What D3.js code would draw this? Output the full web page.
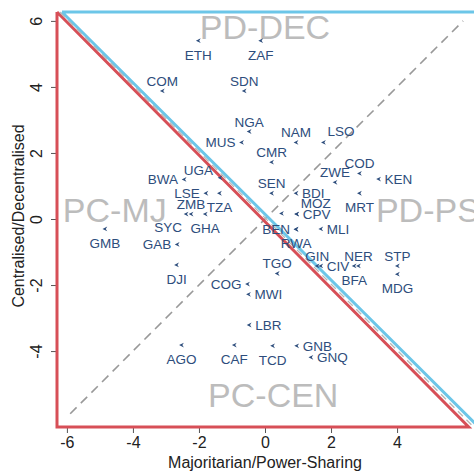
<!DOCTYPE html>
<html>
<head>
<meta charset="utf-8">
<script src="https://cdn.jsdelivr.net/npm/d3@7"></script>
<style>
  html, body { margin: 0; padding: 0; background: #fff; }
  svg { display: block; font-family: "Liberation Sans", Arial, sans-serif; }
</style>
</head>
<body>
<div id="chart"></div>
<script>
// Country codes, scores and label clock positions (0 = no label)
const codes = ["ETH","ZAF","COM","SDN","NGA","MUS","NAM","LSO","CMR","UGA",
  "BWA","COD","ZWE","KEN","SEN","BDI","MRT","LSE","TZA","ZMB",
  "SYC","GHA","MOZ","CPV","","BEN","RWA","MLI","GMB","GAB",
  "DJI","TGO","GIN","CIV","NER","BFA","STP","MDG","COG","MWI",
  "LBR","AGO","CAF","TCD","GNB","GNQ"];
const majPower = [-2.02,-0.13,-3.11,-0.63,-0.48,-0.71,0.94,1.77,0.20,-1.36,
  -2.45,2.86,2.12,3.44,0.20,0.94,2.86,-1.79,-1.38,-2.24,
  -2.39,-1.81,0.96,0.96,0.50,0.94,0.94,1.69,-4.85,-2.66,
  -2.68,0.37,1.58,1.69,2.83,2.70,4.01,4.01,-0.53,-0.50,
  -0.48,-2.53,-0.93,0.23,0.96,1.39];
const centDecent = [5.40,5.40,3.88,3.88,2.65,2.32,2.32,2.32,1.72,1.25,
  1.20,1.38,1.11,1.21,0.78,0.78,0.78,0.78,0.78,0.15,
  0.15,0.15,0.15,0.15,0.17,-0.31,-0.31,-0.30,-0.30,-0.77,
  -1.39,-1.65,-1.42,-1.42,-1.42,-1.42,-1.42,-1.67,-1.97,-2.28,
  -3.21,-3.82,-3.82,-3.84,-3.84,-4.19];
const labelPos = [6,6,12,12,12,9,12,1,12,10,
  9,12,12,3,12,3,6,9,6,12,
  7,6,1,3,0,9,6,3,6,9,
  6,12,12,3,12,6,12,6,9,3,
  3,6,6,6,3,3];

const xTicks = [-6,-4,-2,0,2,4];
const yTicks = [-4,-2,0,2,4,6];

const quadrants = ["PD-DEC","PC-MJ","PD-PS","PC-CEN"];

const width = 474, height = 473;
const x = d3.scaleLinear().domain([-6.3, 6.3]).range([57, 473]);
const y = d3.scaleLinear().domain([-6.3, 6.3]).range([427, 11]);

const svg = d3.select("#chart").append("svg")
    .attr("width", width)
    .attr("height", height);

const RED = "#d74f57", BLUE = "#6cc6e8", NAVY = "#2d4d7c";

// Axes (ticks only, the triangles act as axis lines)
const xAxis = svg.append("g")
    .attr("transform", `translate(0,${y(-6.3) + 1})`)
    .call(d3.axisBottom(x).tickValues(xTicks).tickSize(5).tickPadding(4).tickFormat(d3.format("d")));
xAxis.select(".domain").remove();
xAxis.selectAll("line").attr("stroke", "#555");
xAxis.selectAll("text").attr("font-size", 16).attr("fill", "#222")
    .text(d => d < 0 ? "-" + Math.abs(d) : d);

const yAxis = svg.append("g")
    .attr("transform", `translate(${x(-6.3) - 1},0)`)
    .call(d3.axisLeft(y).tickValues(yTicks).tickSize(5).tickPadding(4));
yAxis.select(".domain").remove();
yAxis.selectAll("line").attr("stroke", "#555");
yAxis.selectAll("text")
    .attr("font-size", 16).attr("fill", "#222")
    .attr("text-anchor", "middle")
    .attr("x", 0).attr("dy", 0)
    .attr("transform", "translate(-14,0) rotate(-90)")
    .text(d => d < 0 ? "-" + Math.abs(d) : d);

// Axis titles
svg.append("text")
    .attr("x", x(0)).attr("y", 468)
    .attr("text-anchor", "middle")
    .attr("font-size", 16).attr("fill", "#222")
    .text("Majoritarian/Power-Sharing");

svg.append("text")
    .attr("transform", `translate(24,${y(0) - 3}) rotate(-90)`)
    .attr("text-anchor", "middle")
    .attr("font-size", 16).attr("fill", "#222")
    .text("Centralised/Decentralised");

const line = d3.line().x(d => x(d[0])).y(d => y(d[1]));

// 45 degree dashed reference
svg.append("path")
    .attr("d", line([[-5.9, -5.9], [6.0, 6.0]]))
    .attr("fill", "none").attr("stroke", "#999")
    .attr("stroke-width", 1.6).attr("stroke-dasharray", "9,6");

// Blue triangle (upper right)
svg.append("path")
    .attr("d", line([[-6.15, 6.27], [6.5, 6.27], [6.5, -6.3], [6.47, -6.3], [-6.15, 6.27]]))
    .attr("fill", "none").attr("stroke", BLUE).attr("stroke-width", 3);

// Red triangle (lower left)
svg.append("path")
    .attr("d", line([[-6.3, 6.27], [-6.3, -6.3], [6.17, -6.3], [-6.3, 6.27]]))
    .attr("fill", "none").attr("stroke", RED).attr("stroke-width", 3)
    .attr("stroke-linejoin", "miter");

// Dashed anti-diagonal between the two
svg.append("path")
    .attr("d", line([[-6.22, 6.27], [6.32, -6.3]]))
    .attr("fill", "none").attr("stroke", "#b5b5b5")
    .attr("stroke-width", 1.3).attr("stroke-dasharray", "7,5");

// Quadrant labels
const qPos = [[0, 5.45, "middle"], [-4.55, -0.09, "middle"], [3.36, -0.09, "start"], [0.25, -5.7, "middle"]];
svg.selectAll("text.quad")
    .data(quadrants)
    .join("text")
    .attr("class", "quad")
    .attr("x", (d, i) => x(qPos[i][0]))
    .attr("y", (d, i) => y(qPos[i][1]))
    .attr("text-anchor", (d, i) => qPos[i][2])
    .attr("font-size", 34)
    .attr("fill", "#bcbcbc")
    .text(d => d);

// Points
const points = codes.map((c, i) => ({ code: c, mx: majPower[i], cy: centDecent[i], pos: labelPos[i] }));

svg.selectAll("path.pt")
    .data(points)
    .join("path")
    .attr("class", "pt")
    .attr("d", d => {
        const px = x(d.mx), py = y(d.cy);
        return `M${px + 2.4},${py - 2.4}L${px - 2.4},${py}L${px + 2.4},${py + 2.4}L${px + 0.9},${py}Z`;
    })
    .attr("fill", NAVY);

const offsets = {
    12: [0, -5, "middle"],
    6: [0, 19, "middle"],
    3: [6, 5, "start"],
    9: [-6, 5, "end"],
    10: [-7, -3, "end"],
    1: [4, -6, "start"],
    7: [-4, 18, "end"]
};

svg.selectAll("text.lab")
    .data(points.filter(d => d.pos !== 0))
    .join("text")
    .attr("class", "lab")
    .attr("x", d => x(d.mx) + offsets[d.pos][0])
    .attr("y", d => y(d.cy) + offsets[d.pos][1])
    .attr("text-anchor", d => offsets[d.pos][2])
    .attr("font-size", 13.5)
    .attr("fill", NAVY)
    .text(d => d.code);
</script>
</body>
</html>
